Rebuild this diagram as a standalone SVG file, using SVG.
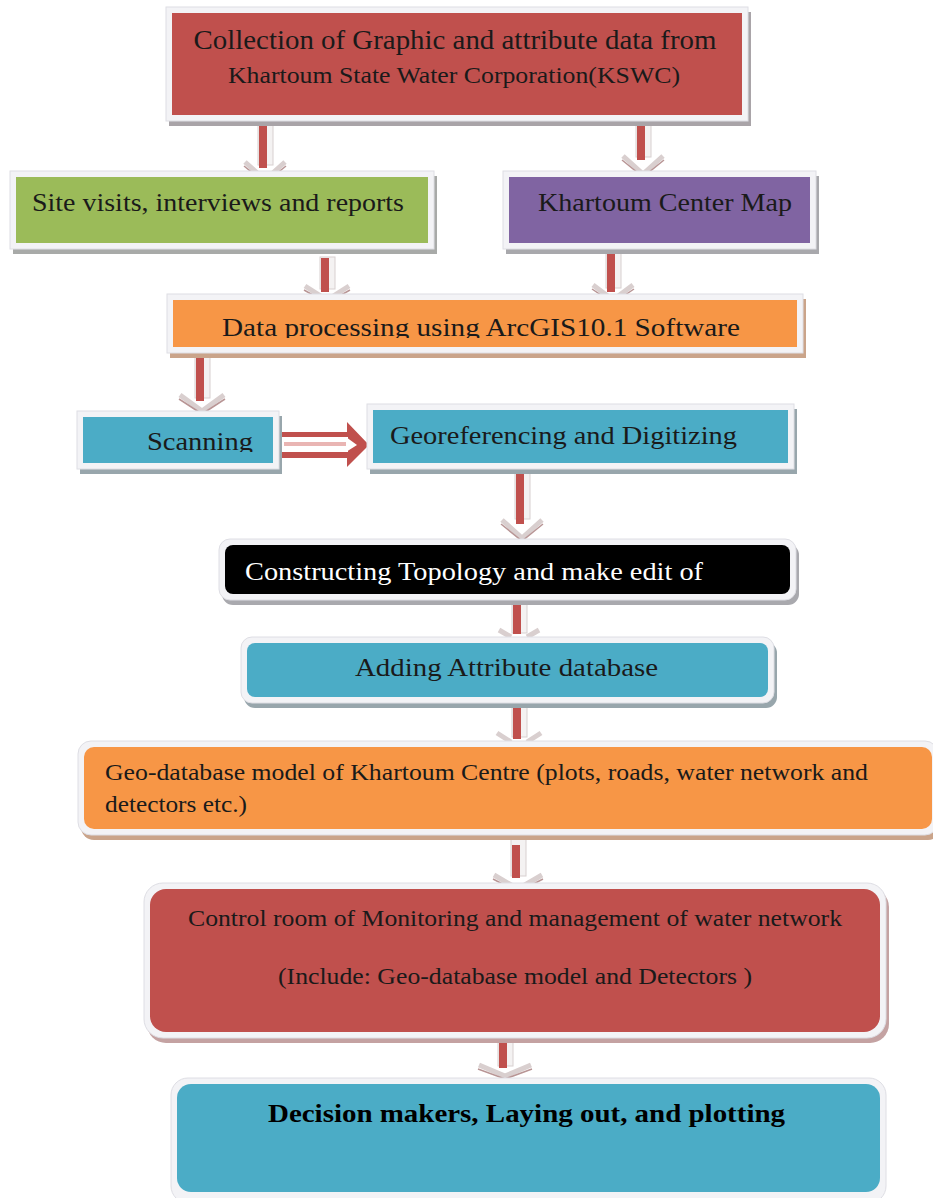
<svg xmlns="http://www.w3.org/2000/svg" width="933" height="1198" viewBox="0 0 933 1198">
<defs>
<style>
.frame{fill:#f3f3f6;stroke:#dedee4;stroke-width:1}
.t{font-family:"Liberation Serif","Times New Roman",serif;fill:#1a1a1a}
.w{fill:#ffffff}
.b{font-weight:bold;fill:#000}
.shaft{fill:#f4f2f2;stroke:#d8d0d0;stroke-width:1}
.red{fill:#c0504d}
.chev{fill:none;stroke:#d9cfcf;stroke-width:5;stroke-linejoin:miter}
.chev2{fill:none;stroke:#b89595;stroke-width:1.5}
</style>
<clipPath id="clipOr"><rect x="173" y="300" width="624" height="38"/></clipPath>
<clipPath id="clipSc"><rect x="83" y="417" width="190" height="35"/></clipPath>
</defs>

<g id="connectors">
  <g transform="translate(265,0)">
    <rect class="shaft" x="-7" y="123" width="15" height="42"/>
    <rect class="red" x="-6" y="123" width="8" height="45"/>
    <polyline class="chev" points="-20,162 0,180 20,162"/>
    <polyline class="chev2" points="-21,166 0,183 21,166"/>
  </g>
  <g transform="translate(643,0)">
    <rect class="shaft" x="-7" y="121" width="15" height="36"/>
    <rect class="red" x="-6" y="121" width="8" height="39"/>
    <polyline class="chev" points="-20,156 0,174 20,156"/>
    <polyline class="chev2" points="-21,160 0,177 21,160"/>
  </g>
  <g transform="translate(327,0)">
    <rect class="shaft" x="-7" y="257" width="15" height="32"/>
    <rect class="red" x="-6" y="258" width="8" height="34"/>
    <polyline class="chev" points="-22,286 0,300 22,286"/>
    <polyline class="chev2" points="-23,290 0,303 23,290"/>
  </g>
  <g transform="translate(613,0)">
    <rect class="shaft" x="-7" y="250" width="15" height="38"/>
    <rect class="red" x="-6" y="250" width="8" height="42"/>
    <polyline class="chev" points="-20,285 0,300 20,285"/>
    <polyline class="chev2" points="-21,289 0,303 21,289"/>
  </g>
  <g transform="translate(202,0)">
    <rect class="shaft" x="-7" y="352" width="15" height="46"/>
    <rect class="red" x="-6" y="353" width="8" height="48"/>
    <polyline class="chev" points="-22,395 0,411 22,395"/>
    <polyline class="chev2" points="-23,399 0,414 23,399"/>
  </g>
  <g>
    <polygon class="red" points="278,432 347,432 347,422 369,445 347,467 347,458 278,458"/>
    <rect x="282" y="437" width="66" height="15" fill="#ffffff"/>
    <rect x="284" y="442" width="62" height="4" fill="#e9b5b3"/>
    <polygon points="346,437 357,445 346,452" fill="#ffffff"/>
  </g>
  <g transform="translate(522,0)">
    <rect class="shaft" x="-7" y="471" width="15" height="48"/>
    <rect class="red" x="-6" y="472" width="8" height="52"/>
    <polyline class="chev" points="-20,520 0,538 20,520"/>
    <polyline class="chev2" points="-21,524 0,541 21,524"/>
  </g>
  <g transform="translate(519,0)">
    <rect class="shaft" x="-7" y="598" width="15" height="35"/>
    <rect class="red" x="-6" y="600" width="8" height="34"/>
    <polyline class="chev" points="-20,630 -8,637"/>
    <polyline class="chev" points="8,637 20,630"/>
  </g>
  <g transform="translate(519,0)">
    <rect class="shaft" x="-7" y="701" width="15" height="36"/>
    <rect class="red" x="-6" y="703" width="8" height="36"/>
    <polyline class="chev" points="-22,733 -8,742"/>
    <polyline class="chev" points="8,742 22,733"/>
  </g>
  <g transform="translate(518,0)">
    <rect class="shaft" x="-7" y="838" width="15" height="38"/>
    <rect class="red" x="-6" y="845" width="8" height="33"/>
    <polyline class="chev" points="-24,875 0,889 24,875"/>
    <polyline class="chev2" points="-25,879 0,892 25,879"/>
  </g>
  <g transform="translate(505,0)">
    <rect class="shaft" x="-7" y="1038" width="15" height="28"/>
    <rect class="red" x="-6" y="1040" width="8" height="28"/>
    <polyline class="chev" points="-26,1065 0,1076 26,1065"/>
    <polyline class="chev2" points="-27,1069 0,1079 27,1069"/>
  </g>
</g>

<g id="node-collection">
  <rect x="169" y="12" width="582" height="114" fill="#a9a4a8"/>
  <rect class="frame" x="166" y="7" width="582" height="114"/>
  <rect x="172" y="13" width="570" height="102" fill="#c0504d"/>
  <text class="t" x="455" y="49" font-size="28" text-anchor="middle" textLength="523" lengthAdjust="spacingAndGlyphs">Collection of Graphic and attribute data from</text>
  <text class="t" x="454" y="83" font-size="24" text-anchor="middle" textLength="452" lengthAdjust="spacingAndGlyphs">Khartoum State Water Corporation(KSWC)</text>
</g>

<g id="node-site">
  <rect x="13" y="176" width="424" height="78" fill="#a8aaa8"/>
  <rect class="frame" x="10" y="171" width="424" height="78"/>
  <rect x="16" y="177" width="412" height="66" fill="#9bbb59"/>
  <text class="t" x="32" y="211" font-size="26" textLength="372" lengthAdjust="spacingAndGlyphs">Site visits, interviews and reports</text>
</g>

<g id="node-map">
  <rect x="506" y="176" width="313" height="78" fill="#a8a8ac"/>
  <rect class="frame" x="503" y="171" width="313" height="78"/>
  <rect x="509" y="177" width="301" height="66" fill="#8064a2"/>
  <text class="t" x="538" y="211" font-size="26" textLength="254" lengthAdjust="spacingAndGlyphs">Khartoum Center Map</text>
</g>

<g id="node-processing">
  <rect x="170" y="299" width="636" height="59" fill="#caa48a"/>
  <rect class="frame" x="167" y="294" width="636" height="59"/>
  <rect x="173" y="300" width="624" height="47" fill="#f79646"/>
  <text class="t" x="222" y="336" font-size="26" textLength="518" lengthAdjust="spacingAndGlyphs" clip-path="url(#clipOr)">Data processing using ArcGIS10.1 Software</text>
</g>

<g id="node-scanning">
  <rect x="80" y="416" width="202" height="58" fill="#98a6ac"/>
  <rect class="frame" x="77" y="411" width="202" height="58"/>
  <rect x="83" y="417" width="190" height="46" fill="#4bacc6"/>
  <text class="t" x="147" y="450" font-size="25" textLength="106" lengthAdjust="spacingAndGlyphs" clip-path="url(#clipSc)">Scanning</text>
</g>

<g id="node-georef">
  <rect x="370" y="409" width="427" height="65" fill="#98a6ac"/>
  <rect class="frame" x="367" y="404" width="427" height="65"/>
  <rect x="373" y="410" width="415" height="53" fill="#4bacc6"/>
  <text class="t" x="390" y="444" font-size="26" textLength="347" lengthAdjust="spacingAndGlyphs">Georeferencing and Digitizing</text>
</g>

<g id="node-topology">
  <rect x="222" y="544" width="577" height="61" rx="11" fill="#a9a9ae"/>
  <rect class="frame" x="219" y="539" width="577" height="61" rx="11"/>
  <rect x="225" y="545" width="565" height="49" rx="8" fill="#000000"/>
  <text class="t w" x="245" y="580" font-size="26" textLength="458" lengthAdjust="spacingAndGlyphs">Constructing Topology and make edit of</text>
</g>

<g id="node-attribute">
  <rect x="244" y="642" width="533" height="66" rx="11" fill="#98a6ac"/>
  <rect class="frame" x="241" y="637" width="533" height="66" rx="11"/>
  <rect x="247" y="643" width="521" height="54" rx="8" fill="#4bacc6"/>
  <text class="t" x="355" y="676" font-size="26" textLength="303" lengthAdjust="spacingAndGlyphs">Adding Attribute database</text>
</g>

<g id="node-geodatabase">
  <rect x="81" y="746" width="860" height="94" rx="13" fill="#caa48a"/>
  <rect class="frame" x="78" y="741" width="860" height="94" rx="13"/>
  <rect x="84" y="747" width="848" height="82" rx="10" fill="#f79646"/>
  <text class="t" x="105" y="780" font-size="23" textLength="763" lengthAdjust="spacingAndGlyphs">Geo-database model of Khartoum Centre (plots, roads, water network and</text>
  <text class="t" x="105" y="812" font-size="23" textLength="142" lengthAdjust="spacingAndGlyphs">detectors etc.)</text>
</g>

<g id="node-control">
  <rect x="147" y="888" width="742" height="155" rx="19" fill="#c4a2a2"/>
  <rect class="frame" x="144" y="883" width="742" height="155" rx="19"/>
  <rect x="150" y="889" width="730" height="143" rx="16" fill="#c0504d"/>
  <text class="t" x="188" y="926" font-size="23" textLength="654" lengthAdjust="spacingAndGlyphs">Control room of Monitoring and management of water network</text>
  <text class="t" x="278" y="984" font-size="23" textLength="474" lengthAdjust="spacingAndGlyphs">(Include: Geo-database model and Detectors )</text>
</g>

<g id="node-decision">
  <rect class="frame" x="171" y="1078" width="715" height="125" rx="17"/>
  <rect x="177" y="1084" width="703" height="108" rx="14" fill="#4bacc6"/>
  <text class="t b" x="268" y="1122" font-size="26" textLength="517" lengthAdjust="spacingAndGlyphs">Decision makers, Laying out, and plotting</text>
</g>
</svg>
